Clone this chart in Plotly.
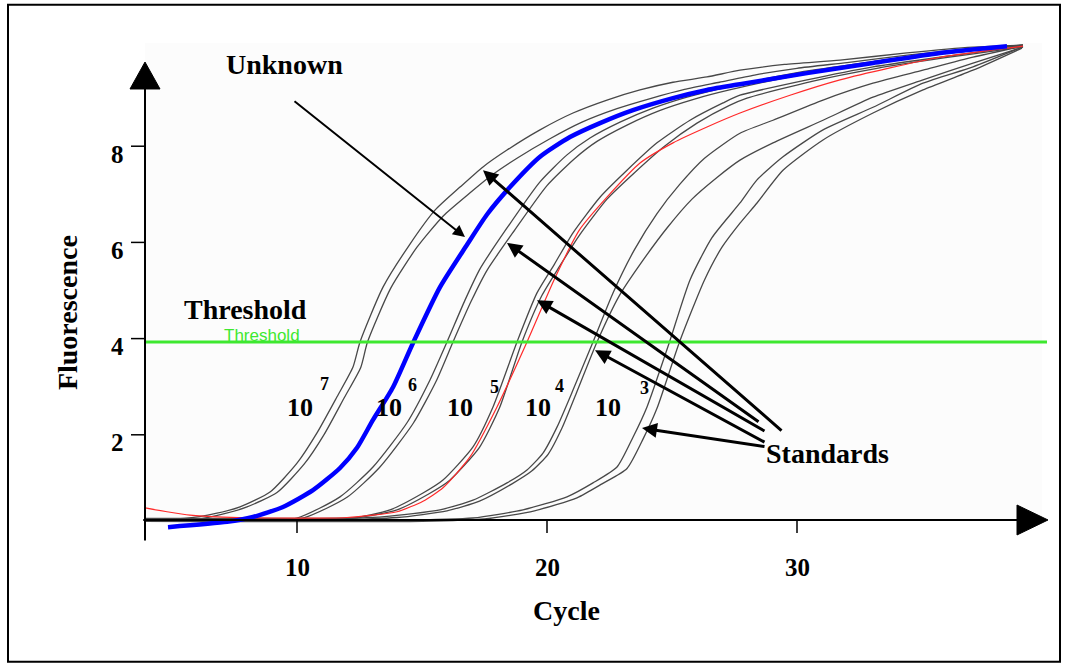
import plotly.graph_objects as go

# ---------------- data (cycle, fluorescence) ----------------
s7a_x = [3.92, 5.5, 6.8, 7.72, 8.92, 10.0, 10.8, 11.6, 12.24, 12.52, 13.44, 14.5, 15.52, 16.52, 17.44, 18.4, 19.72, 21.04, 22.4, 23.72, 25.04, 26.4, 27.72, 29.5, 31.72, 34.4, 37.04, 39.04]
s7a_y = [0.25, 0.26, 0.37, 0.50, 0.81, 1.41, 2.04, 2.79, 3.41, 3.93, 5.07, 5.95, 6.67, 7.15, 7.57, 7.92, 8.34, 8.69, 8.96, 9.17, 9.33, 9.44, 9.58, 9.70, 9.79, 9.94, 10.06, 10.10]
s7b_x = [3.92, 6.0, 7.1, 8.0, 9.2, 10.3, 11.1, 11.9, 12.55, 12.82, 13.75, 14.8, 15.85, 16.9, 17.8, 18.8, 20.1, 21.4, 22.8, 24.2, 25.5, 26.9, 28.3, 30.0, 32.0, 34.5, 37.0, 39.04]
s7b_y = [0.22, 0.24, 0.36, 0.50, 0.80, 1.40, 2.02, 2.78, 3.40, 3.93, 5.05, 5.90, 6.55, 7.02, 7.40, 7.75, 8.15, 8.50, 8.78, 9.00, 9.18, 9.33, 9.48, 9.62, 9.74, 9.90, 10.03, 10.10]
s6a_x = [3.92, 8.0, 10.0, 11.72, 13.04, 14.4, 15.32, 16.0, 16.72, 17.32, 18.4, 19.72, 20.8, 21.72, 22.92, 24.24, 25.6, 27.04, 30.12, 32.92, 35.72, 38.52, 39.04]
s6a_y = [0.22, 0.22, 0.27, 0.71, 1.33, 2.25, 3.14, 3.93, 4.80, 5.45, 6.30, 7.26, 7.82, 8.17, 8.50, 8.79, 9.02, 9.21, 9.54, 9.75, 9.94, 10.08, 10.10]
s6b_x = [3.92, 8.5, 10.3, 12.0, 13.3, 14.65, 15.57, 16.24, 16.97, 17.6, 18.7, 20.0, 21.1, 22.0, 23.2, 24.5, 25.9, 27.3, 30.3, 33.0, 35.8, 38.5, 39.04]
s6b_y = [0.24, 0.24, 0.28, 0.70, 1.32, 2.24, 3.12, 3.93, 4.78, 5.42, 6.25, 7.18, 7.74, 8.10, 8.44, 8.74, 8.98, 9.17, 9.50, 9.72, 9.92, 10.07, 10.10]
s5a_x = [3.92, 10.0, 12.12, 13.72, 15.04, 15.84, 17.04, 17.84, 18.8, 19.6, 20.3, 21.04, 22.12, 23.2, 24.4, 25.72, 27.04, 27.72, 30.4, 33.04, 35.72, 38.4, 39.04]
s5a_y = [0.24, 0.24, 0.26, 0.44, 0.79, 1.06, 1.75, 2.58, 3.93, 4.95, 5.55, 6.20, 6.94, 7.50, 8.07, 8.54, 8.90, 9.06, 9.38, 9.65, 9.85, 10.04, 10.08]
s5b_x = [3.92, 10.5, 12.4, 14.0, 15.3, 16.1, 17.3, 18.1, 19.0, 19.8, 20.5, 21.3, 22.4, 23.5, 24.7, 26.0, 27.3, 28.0, 30.6, 33.2, 35.8, 38.4, 39.04]
s5b_y = [0.26, 0.26, 0.28, 0.44, 0.78, 1.05, 1.74, 2.56, 3.93, 4.90, 5.50, 6.15, 6.90, 7.45, 8.00, 8.48, 8.85, 9.00, 9.35, 9.62, 9.83, 10.02, 10.08]
red_x = [3.92, 4.8, 5.72, 7.04, 9.0, 12.0, 14.0, 15.04, 15.84, 16.92, 18.0, 19.2, 20.3, 21.3, 22.4, 23.72, 25.04, 26.4, 27.72, 29.72, 31.72, 33.72, 35.72, 37.8, 39.04]
red_y = [0.48, 0.40, 0.33, 0.29, 0.27, 0.28, 0.40, 0.62, 0.90, 1.54, 2.58, 3.93, 5.24, 6.26, 6.94, 7.65, 8.07, 8.40, 8.69, 9.06, 9.38, 9.63, 9.85, 10.00, 10.08]
s4a_x = [3.92, 11.0, 13.5, 15.72, 17.04, 18.4, 19.2, 19.84, 20.4, 21.04, 21.84, 22.64, 23.5, 24.4, 25.3, 26.3, 27.72, 29.04, 31.04, 33.04, 35.04, 37.04, 39.04]
s4a_y = [0.25, 0.25, 0.30, 0.44, 0.64, 1.00, 1.27, 1.62, 2.16, 2.93, 3.93, 4.95, 5.85, 6.60, 7.20, 7.75, 8.27, 8.54, 8.96, 9.31, 9.58, 9.85, 10.08]
s4b_x = [3.92, 11.5, 14.0, 16.0, 17.3, 18.6, 19.4, 20.05, 20.6, 21.2, 22.0, 22.9, 23.8, 24.8, 25.8, 26.8, 27.72, 29.04, 31.04, 33.04, 35.04, 37.04, 39.04]
s4b_y = [0.23, 0.23, 0.28, 0.42, 0.62, 0.98, 1.25, 1.60, 2.14, 2.90, 3.93, 4.90, 5.60, 6.30, 6.90, 7.35, 7.71, 8.07, 8.54, 9.02, 9.38, 9.73, 10.06]
s3a_x = [3.92, 14.0, 17.04, 19.04, 20.8, 21.84, 22.8, 23.44, 24.0, 24.9, 25.72, 26.6, 27.72, 28.4, 29.44, 31.04, 33.04, 35.04, 37.04, 39.0]
s3a_y = [0.22, 0.22, 0.27, 0.44, 0.71, 1.00, 1.33, 1.95, 2.58, 3.93, 5.22, 6.10, 6.82, 7.30, 7.78, 8.34, 8.81, 9.31, 9.65, 10.06]
s3b_x = [3.92, 15.0, 17.5, 19.5, 21.2, 22.2, 23.2, 23.85, 24.4, 25.3, 26.3, 27.0, 27.72, 28.4, 29.44, 31.04, 33.04, 35.04, 37.04, 39.0]
s3b_y = [0.20, 0.20, 0.25, 0.42, 0.69, 0.98, 1.30, 1.92, 2.55, 3.93, 5.22, 5.90, 6.40, 6.82, 7.50, 8.13, 8.69, 9.17, 9.58, 10.04]
unknown_x = [4.84, 7.2, 8.24, 9.44, 10.64, 11.72, 12.4, 13.04, 13.84, 14.64, 15.72, 16.8, 17.6, 18.52, 19.72, 20.92, 22.12, 23.44, 25.04, 26.4, 27.72, 30.4, 33.04, 35.72, 38.4]
unknown_y = [0.08, 0.19, 0.29, 0.50, 0.85, 1.31, 1.73, 2.31, 2.99, 3.91, 5.07, 5.95, 6.58, 7.15, 7.78, 8.19, 8.48, 8.75, 9.00, 9.17, 9.29, 9.52, 9.73, 9.94, 10.08]

threshold = 3.93
x_ticks = [10, 20, 30]
x_tick_labels = ["10", "20", "30"]
y_ticks = [2, 4, 6, 8]
y_tick_labels = ["2", "4", "6", "8"]
std_exponents = ["7", "6", "5", "4", "3"]

# ---------------- figure ----------------
fig = go.Figure()
gray = "#484848"
standards = [(s7a_x, s7a_y), (s7b_x, s7b_y), (s6a_x, s6a_y), (s6b_x, s6b_y),
             (s5a_x, s5a_y), (s5b_x, s5b_y), (s4a_x, s4a_y), (s4b_x, s4b_y),
             (s3a_x, s3a_y), (s3b_x, s3b_y)]
for sx, sy in standards:
    fig.add_trace(go.Scatter(x=sx, y=sy, mode="lines",
                             line=dict(color=gray, width=1.3, shape="spline", smoothing=0.6),
                             hoverinfo="skip"))
fig.add_trace(go.Scatter(x=red_x, y=red_y, mode="lines",
                         line=dict(color="#ff2a2a", width=1.2, shape="spline", smoothing=0.6),
                         hoverinfo="skip"))
fig.add_trace(go.Scatter(x=unknown_x, y=unknown_y, mode="lines",
                         line=dict(color="#0000ff", width=4.5, shape="spline", smoothing=0.6),
                         hoverinfo="skip"))

X0, X1 = -1.88, 40.76
Y0, Y1 = -2.807, 11.04
ax_x = 3.92      # y axis position (cycle)
ax_y = 0.229     # x axis position (fluorescence)

shapes = []
# plot background
shapes.append(dict(type="rect", xref="x", yref="y", x0=ax_x, x1=39.8, y0=ax_y, y1=10.146,
                   fillcolor="#fcfcfc", line=dict(width=0), layer="below"))
# outer frame
shapes.append(dict(type="rect", xref="x", yref="y", x0=-1.56, x1=40.52, y0=-2.72, y1=10.94,
                   line=dict(color="black", width=2), layer="above"))
# threshold line
shapes.append(dict(type="line", xref="x", yref="y", x0=ax_x, x1=40.0, y0=threshold, y1=threshold,
                   line=dict(color="#3ee830", width=3), layer="above"))
# axes lines
shapes.append(dict(type="line", xref="x", yref="y", x0=ax_x, x1=ax_x, y0=-0.2, y1=9.3,
                   line=dict(color="black", width=2), layer="above"))
shapes.append(dict(type="line", xref="x", yref="y", x0=3.85, x1=38.9, y0=ax_y, y1=ax_y,
                   line=dict(color="black", width=2), layer="above"))
# arrow heads
shapes.append(dict(type="path", xref="x", yref="y", path="M 3.32 9.19 L 4.52 9.19 L 3.92 9.75 Z",
                   fillcolor="black", line=dict(color="black", width=1), layer="above"))
shapes.append(dict(type="path", xref="x", yref="y", path="M 38.8 0.54 L 38.8 -0.083 L 40.04 0.229 Z",
                   fillcolor="black", line=dict(color="black", width=1), layer="above"))
# ticks
for t in y_ticks:
    shapes.append(dict(type="line", xref="x", yref="y", x0=3.36, x1=ax_x, y0=t, y1=t,
                       line=dict(color="black", width=1.5), layer="above"))
for t in x_ticks:
    shapes.append(dict(type="line", xref="x", yref="y", x0=t, x1=t, y0=ax_y, y1=-0.04,
                       line=dict(color="black", width=1.5), layer="above"))

serif = "Liberation Serif, Times New Roman, serif"
ann = []
for t, lab in zip(x_ticks, x_tick_labels):
    ann.append(dict(x=t, y=-0.75, text="<b>%s</b>" % lab, showarrow=False,
                    font=dict(family=serif, size=25, color="black")))
for t, lab in zip(y_ticks, y_tick_labels):
    ann.append(dict(x=2.8, y=t - 0.17, text="<b>%s</b>" % lab, showarrow=False,
                    font=dict(family=serif, size=25, color="black")))
ann.append(dict(x=20.76, y=-1.65, text="<b>Cycle</b>", showarrow=False,
                font=dict(family=serif, size=28, color="black")))
ann.append(dict(x=0.8, y=4.53, text="<b>Fluorescence</b>", showarrow=False, textangle=-90,
                font=dict(family=serif, size=28, color="black")))
ann.append(dict(x=9.5, y=9.69, text="<b>Unknown</b>", showarrow=False,
                font=dict(family=serif, size=28, color="black")))
ann.append(dict(x=7.92, y=4.6, text="<b>Threshold</b>", showarrow=False,
                font=dict(family=serif, size=28, color="black")))
ann.append(dict(x=8.6, y=4.07, text="Threshold", showarrow=False,
                font=dict(family="Liberation Sans, Arial, sans-serif", size=17, color="#3ee830")))
ann.append(dict(x=31.22, y=1.62, text="<b>Standards</b>", showarrow=False,
                font=dict(family=serif, size=28, color="black")))

# 10^n labels
base_pos = [(10.12, 2.56), (13.68, 2.56), (16.52, 2.56), (19.64, 2.56), (22.44, 2.56)]
exp_pos = [(11.08, 3.05), (14.6, 3.03), (17.88, 3.0), (20.48, 3.02), (23.88, 2.98)]
for (bx, by), (ex, ey), e in zip(base_pos, exp_pos, std_exponents):
    ann.append(dict(x=bx, y=by, text="<b>10</b>", showarrow=False,
                    font=dict(family=serif, size=26, color="black")))
    ann.append(dict(x=ex, y=ey, text="<b>%s</b>" % e, showarrow=False,
                    font=dict(family=serif, size=18, color="black")))

# arrows
ann.append(dict(x=16.72, y=6.11, ax=9.84, ay=8.96, axref="x", ayref="y", xref="x", yref="y",
                text="", showarrow=True, arrowhead=2, arrowsize=1.2, arrowwidth=2, arrowcolor="black"))
std_arrows = [((17.44, 7.5), (29.44, 2.06)), ((18.4, 5.99), (28.52, 2.25)),
              ((19.6, 4.8), (28.76, 2.06)), ((21.92, 3.76), (28.76, 1.83)),
              ((23.8, 2.14), (28.76, 1.75))]
for (hx, hy), (tx, ty) in std_arrows:
    ann.append(dict(x=hx, y=hy, ax=tx, ay=ty, axref="x", ayref="y", xref="x", yref="y",
                    text="", showarrow=True, arrowhead=2, arrowsize=1, arrowwidth=3, arrowcolor="black"))

fig.update_layout(
    width=1066, height=666,
    margin=dict(l=0, r=0, t=0, b=0),
    paper_bgcolor="white", plot_bgcolor="white",
    showlegend=False,
    xaxis=dict(range=[X0, X1], visible=False, fixedrange=True),
    yaxis=dict(range=[Y0, Y1], visible=False, fixedrange=True),
    shapes=shapes, annotations=ann,
)

fig.write_html("out.html", config={"displayModeBar": False},
               post_script="document.body.style.margin='0px';")
